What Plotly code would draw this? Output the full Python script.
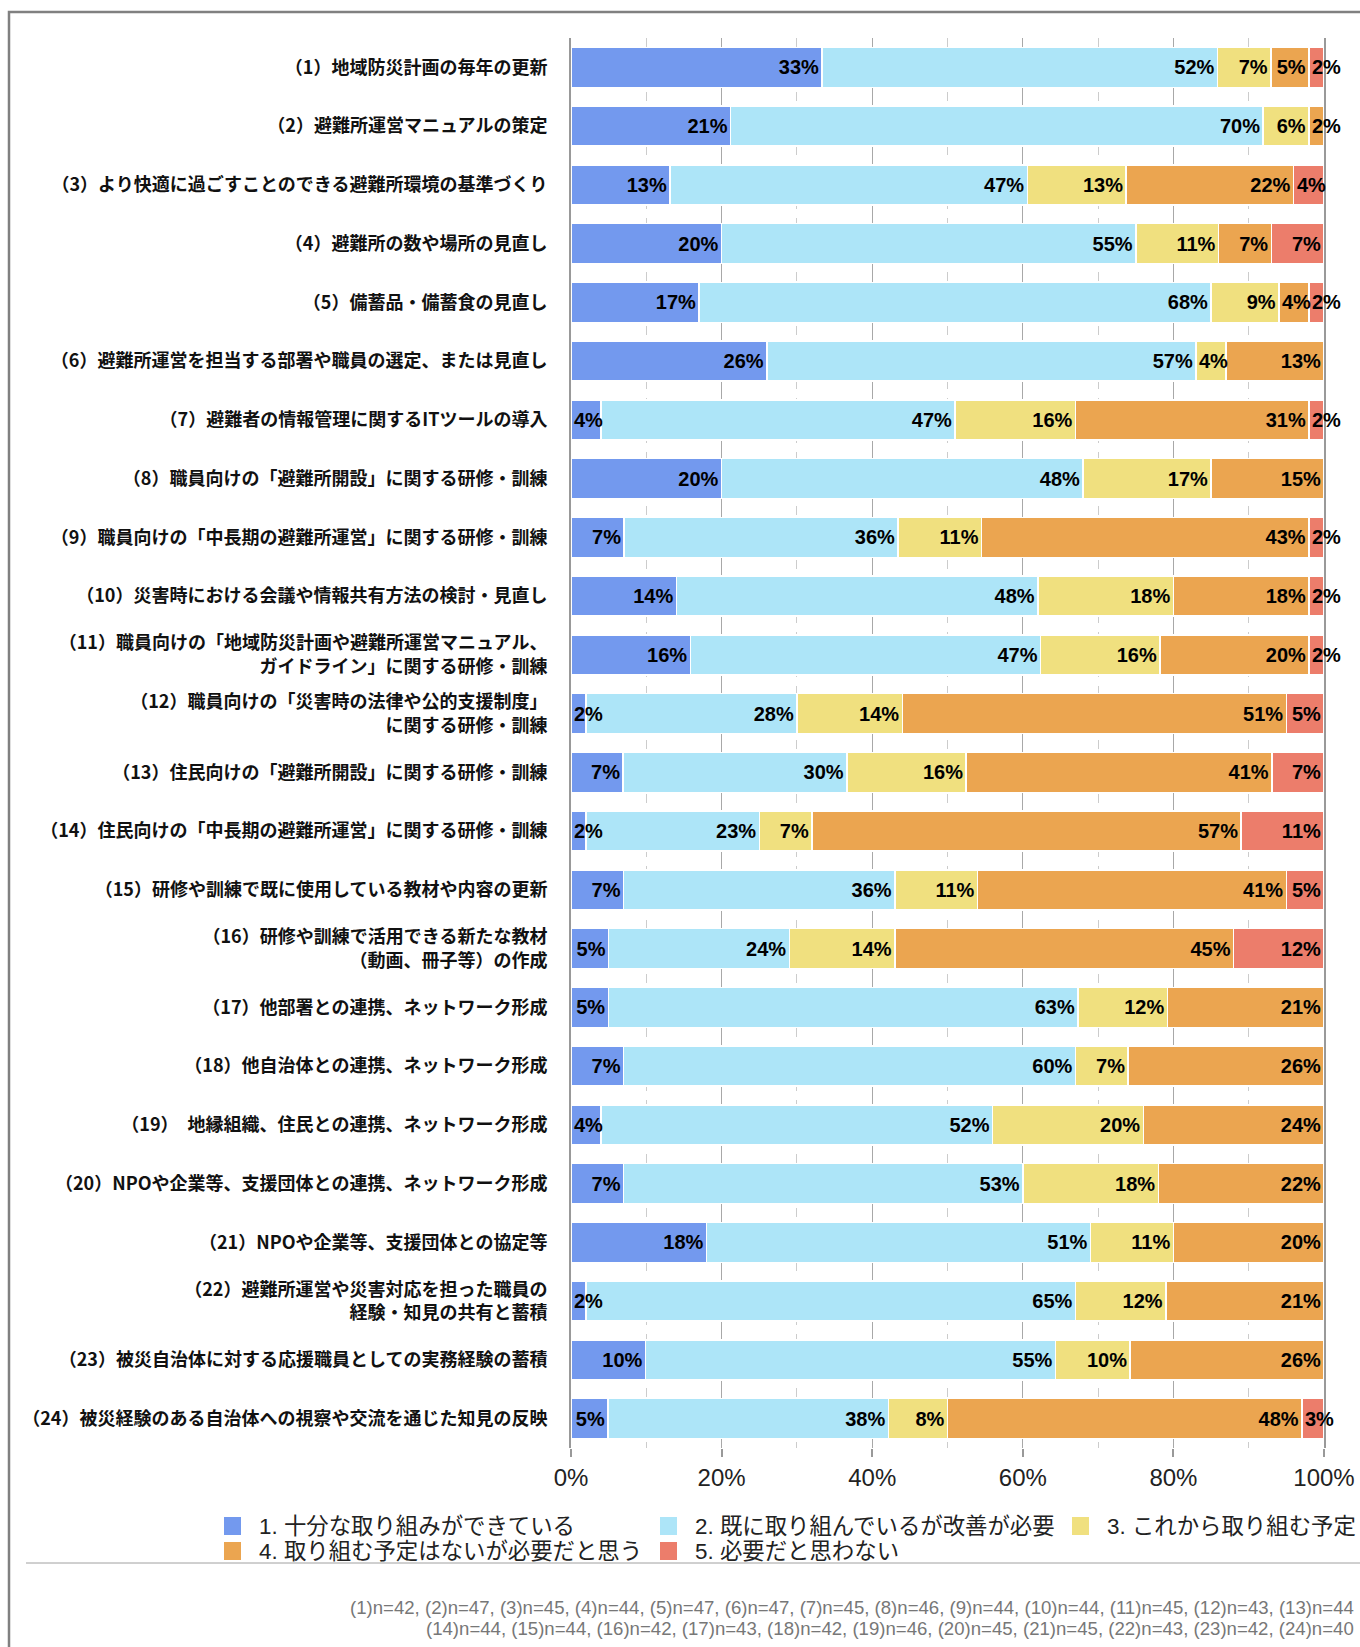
import plotly.graph_objects as go

# ---------------- data ----------------
categories = [
    "（1）地域防災計画の毎年の更新",
    "（2）避難所運営マニュアルの策定",
    "（3）より快適に過ごすことのできる避難所環境の基準づくり",
    "（4）避難所の数や場所の見直し",
    "（5）備蓄品・備蓄食の見直し",
    "（6）避難所運営を担当する部署や職員の選定、または見直し",
    "（7）避難者の情報管理に関するITツールの導入",
    "（8）職員向けの「避難所開設」に関する研修・訓練",
    "（9）職員向けの「中長期の避難所運営」に関する研修・訓練",
    "（10）災害時における会議や情報共有方法の検討・見直し",
    "（11）職員向けの「地域防災計画や避難所運営マニュアル、<br>ガイドライン」に関する研修・訓練",
    "（12）職員向けの「災害時の法律や公的支援制度」<br>に関する研修・訓練",
    "（13）住民向けの「避難所開設」に関する研修・訓練",
    "（14）住民向けの「中長期の避難所運営」に関する研修・訓練",
    "（15）研修や訓練で既に使用している教材や内容の更新",
    "（16）研修や訓練で活用できる新たな教材<br>（動画、冊子等）の作成",
    "（17）他部署との連携、ネットワーク形成",
    "（18）他自治体との連携、ネットワーク形成",
    "（19）　地縁組織、住民との連携、ネットワーク形成",
    "（20）NPOや企業等、支援団体との連携、ネットワーク形成",
    "（21）NPOや企業等、支援団体との協定等",
    "（22）避難所運営や災害対応を担った職員の<br>経験・知見の共有と蓄積",
    "（23）被災自治体に対する応援職員としての実務経験の蓄積",
    "（24）被災経験のある自治体への視察や交流を通じた知見の反映",
]

series_names = [
    "1. 十分な取り組みができている",
    "2. 既に取り組んでいるが改善が必要",
    "3. これから取り組む予定",
    "4. 取り組む予定はないが必要だと思う",
    "5. 必要だと思わない",
]

s1 = [33, 21, 13, 20, 17, 26, 4, 20, 7, 14, 16, 2, 7, 2, 7, 5, 5, 7, 4, 7, 18, 2, 10, 5]
s2 = [52, 70, 47, 55, 68, 57, 47, 48, 36, 48, 47, 28, 30, 23, 36, 24, 63, 60, 52, 53, 51, 65, 55, 38]
s3 = [7, 6, 13, 11, 9, 4, 16, 17, 11, 18, 16, 14, 16, 7, 11, 14, 12, 7, 20, 18, 11, 12, 10, 8]
s4 = [5, 2, 22, 7, 4, 13, 31, 15, 43, 18, 20, 51, 41, 57, 41, 45, 21, 26, 24, 22, 20, 21, 26, 48]
s5 = [2, 0, 4, 7, 2, 0, 2, 0, 2, 2, 2, 5, 7, 11, 5, 12, 0, 0, 0, 0, 0, 0, 0, 3]

x_tick_values = [0, 20, 40, 60, 80, 100]
x_tick_labels = ["0%", "20%", "40%", "60%", "80%", "100%"]

footnote_lines = [
    "(1)n=42, (2)n=47, (3)n=45, (4)n=44, (5)n=47, (6)n=47, (7)n=45, (8)n=46, (9)n=44, (10)n=44, (11)n=45, (12)n=43, (13)n=44",
    "(14)n=44, (15)n=44, (16)n=42, (17)n=43, (18)n=42, (19)n=46, (20)n=45, (21)n=45, (22)n=43, (23)n=42, (24)n=40",
]

colors = ["#7399EE", "#ADE5F8", "#F0E07F", "#EBA550", "#EC7D6B"]

# ---------------- layout geometry (pixels) ----------------
W_FIG, H_FIG = 1360, 1647
L, R, T, B = 571, 1324, 38, 1448
PW, PH = R - L, B - T


def px(x):
    return (x - L) / PW


def py(y):
    return (B - y) / PH


series = [s1, s2, s3, s4, s5]
totals = [sum(v) for v in zip(*series)]
shares = [[v / t * 100 for v, t in zip(s, totals)] for s in series]

LABEL_FONT = dict(family="Liberation Sans, Arial, sans-serif", size=20, color="#000000", weight="bold")


def label_width(val):
    return 20 * (0.556 * len(str(val)) + 0.889)


fig = go.Figure()
annotations = []
cum = [0.0] * len(categories)
for k, (name, vals, sh, col) in enumerate(zip(series_names, series, shares, colors)):
    texts = []
    for i, (v, s) in enumerate(zip(vals, sh)):
        seg_px = s / 100 * PW
        if v == 0:
            texts.append("")
        elif label_width(v) + 6 <= seg_px:
            texts.append(f"{v}%")
        else:
            texts.append("")
            annotations.append(dict(
                x=cum[i], y=categories[i], xref="x", yref="y",
                text=f"{v}%", showarrow=False, xanchor="left", yanchor="middle",
                xshift=1, font=LABEL_FONT,
            ))
    fig.add_trace(go.Bar(
        y=categories, x=sh, name=name, orientation="h",
        marker=dict(color=col, line=dict(color="#FFFFFF", width=1.5)),
        text=texts, textposition="inside", insidetextanchor="end",
        textangle=0, constraintext="none", textfont=LABEL_FONT,
        hoverinfo="skip", showlegend=False,
    ))
    cum = [c + s for c, s in zip(cum, sh)]

shapes = []
# outer frame
shapes.append(dict(type="rect", xref="paper", yref="paper",
                   x0=px(9), x1=px(1400), y0=py(12), y1=py(1720),
                   line=dict(color="#808080", width=2.5), fillcolor="rgba(0,0,0,0)", layer="above"))
# separator line
shapes.append(dict(type="line", xref="paper", yref="paper",
                   x0=px(26), x1=px(1400), y0=py(1563), y1=py(1563),
                   line=dict(color="#A0A0A0", width=1)))

# manual legend
legend_pos = [(224, 1526), (660, 1526), (1072, 1526), (224, 1551), (660, 1551)]
for (lx, ly), name, col in zip(legend_pos, series_names, colors):
    shapes.append(dict(type="rect", xref="paper", yref="paper",
                       x0=px(lx), x1=px(lx + 17), y0=py(ly - 9), y1=py(ly + 9),
                       line=dict(width=0), fillcolor=col))
    annotations.append(dict(x=px(lx + 33), y=py(ly), xref="paper", yref="paper",
                            text=name, showarrow=False, xanchor="left", yanchor="middle",
                            font=dict(family="Liberation Sans, Noto Sans CJK JP, sans-serif",
                                      size=22.4, color="#222222")))

# footnote
for j, line in enumerate(footnote_lines):
    annotations.append(dict(x=px(1356), y=py(1607 + 22 * j), xref="paper", yref="paper",
                            text=line, showarrow=False, xanchor="right", yanchor="middle",
                            font=dict(family="Liberation Sans, Arial, sans-serif",
                                      size=18.6, color="#777777")))

fig.update_layout(
    width=W_FIG, height=H_FIG,
    margin=dict(l=L, r=W_FIG - R, t=T, b=H_FIG - B, autoexpand=False),
    barmode="stack", bargap=0.32,
    paper_bgcolor="#FFFFFF", plot_bgcolor="#FFFFFF",
    showlegend=False,
    shapes=shapes, annotations=annotations,
    uniformtext=dict(mode=False),
)
fig.update_xaxes(
    range=[0, 100], tickvals=x_tick_values, ticktext=x_tick_labels,
    tickfont=dict(family="Liberation Sans, Arial, sans-serif", size=24, color="#222222"),
    showgrid=True, gridcolor="#A8A8A8", gridwidth=1,
    minor=dict(dtick=10, tick0=0, showgrid=True, gridcolor="#CCCCCC", griddash="dash", gridwidth=1),
    ticks="outside", ticklen=8, tickcolor="#999999", tickwidth=1.5,
    ticklabelstandoff=0,
    zeroline=False, showline=False, fixedrange=True,
)
fig.update_yaxes(
    autorange="reversed", categoryorder="array", categoryarray=categories,
    tickfont=dict(family="Noto Sans CJK JP, sans-serif", size=18, color="#111111", weight="bold"),
    showline=True, mirror=True, linecolor="#999999", linewidth=2,
    ticks="", ticklabelstandoff=18, showgrid=False, automargin=False, fixedrange=True,
)

fig.write_html("out.html")
